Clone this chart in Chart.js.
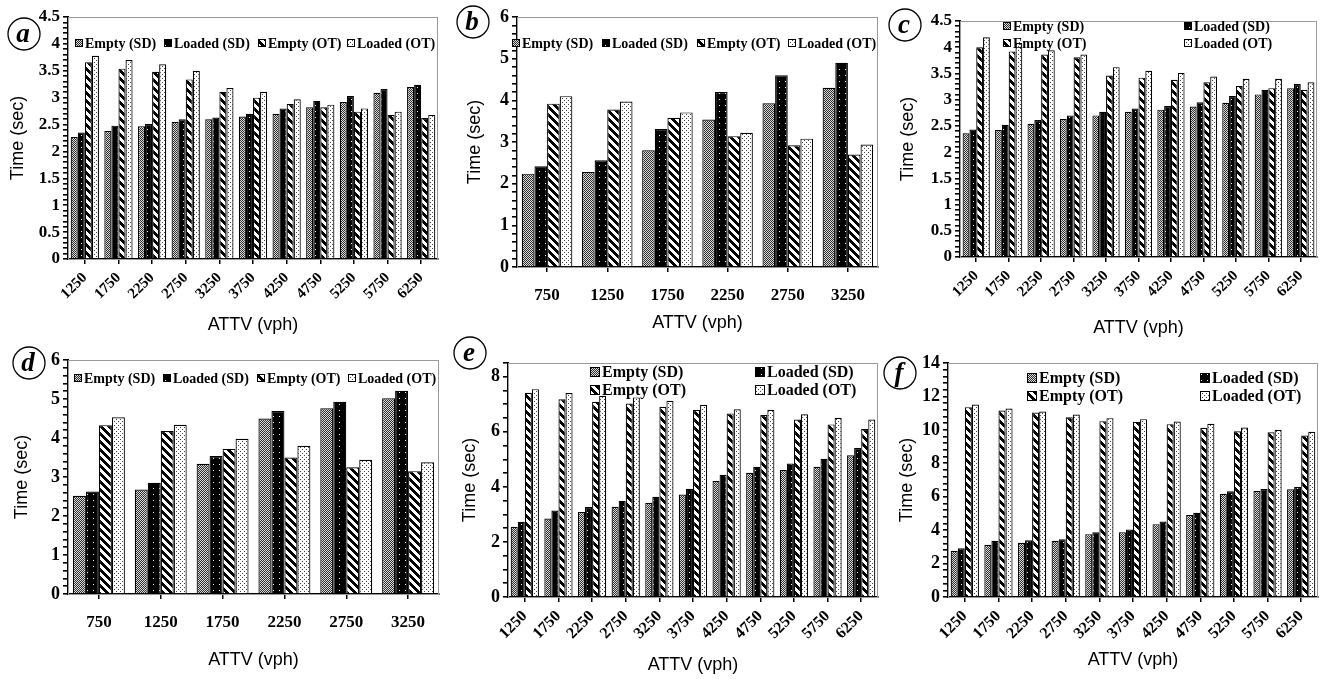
<!DOCTYPE html>
<html>
<head>
<meta charset="utf-8">
<script src="https://cdn.jsdelivr.net/npm/chart.js@4.4.1/dist/chart.umd.min.js"></script>
<style>
  html, body { margin: 0; padding: 0; background: #fff; }
  #wrap { position: relative; width: 1323px; height: 679px; overflow: hidden; }
  canvas { position: absolute; }
</style>
</head>
<body>
<div id="wrap">
  <canvas id="pa" width="440" height="345" style="left:0px;top:0px"></canvas>
  <canvas id="pb" width="440" height="345" style="left:440px;top:0px"></canvas>
  <canvas id="pc" width="443" height="345" style="left:880px;top:0px"></canvas>
  <canvas id="pd" width="440" height="344" style="left:0px;top:335px"></canvas>
  <canvas id="pe" width="440" height="344" style="left:440px;top:335px"></canvas>
  <canvas id="pf" width="443" height="344" style="left:880px;top:335px"></canvas>
</div>
<script>
// categories
const catsLong = ['1250', '1750', '2250', '2750', '3250', '3750', '4250', '4750', '5250', '5750', '6250'];
const catsShort = ['750', '1250', '1750', '2250', '2750', '3250'];
const seriesNames = ['Empty (SD)', 'Loaded (SD)', 'Empty (OT)', 'Loaded (OT)'];

// panel a
const aEmptySD = [2.27, 2.38, 2.47, 2.55, 2.60, 2.65, 2.70, 2.82, 2.92, 3.09, 3.20];
const aLoadedSD = [2.35, 2.48, 2.51, 2.60, 2.63, 2.70, 2.80, 2.94, 3.03, 3.16, 3.24];
const aEmptyOT = [3.66, 3.54, 3.48, 3.34, 3.11, 3.00, 2.88, 2.82, 2.74, 2.68, 2.62];
const aLoadedOT = [3.78, 3.70, 3.62, 3.50, 3.18, 3.11, 2.97, 2.87, 2.80, 2.74, 2.68];

// panel b
const bEmptySD = [2.24, 2.28, 2.80, 3.54, 3.93, 4.30];
const bLoadedSD = [2.42, 2.56, 3.31, 4.20, 4.60, 4.90];
const bEmptyOT = [3.92, 3.78, 3.58, 3.14, 2.92, 2.70];
const bLoadedOT = [4.10, 3.97, 3.71, 3.22, 3.08, 2.94];

// panel c
const cEmptySD = [2.36, 2.42, 2.54, 2.63, 2.70, 2.77, 2.81, 2.87, 2.94, 3.10, 3.22];
const cLoadedSD = [2.43, 2.52, 2.61, 2.70, 2.77, 2.83, 2.88, 2.95, 3.07, 3.19, 3.30];
const cEmptyOT = [4.00, 3.92, 3.86, 3.81, 3.46, 3.42, 3.38, 3.33, 3.26, 3.22, 3.19];
const cLoadedOT = [4.19, 4.08, 3.94, 3.86, 3.62, 3.55, 3.51, 3.44, 3.40, 3.40, 3.33];

// panel d
const dEmptySD = [2.52, 2.68, 3.34, 4.50, 4.76, 5.02];
const dLoadedSD = [2.63, 2.85, 3.54, 4.69, 4.93, 5.21];
const dEmptyOT = [4.33, 4.18, 3.72, 3.50, 3.25, 3.15];
const dLoadedOT = [4.53, 4.34, 3.98, 3.80, 3.44, 3.38];

// panel e
const eEmptySD = [2.55, 2.85, 3.09, 3.28, 3.42, 3.72, 4.21, 4.51, 4.61, 4.73, 5.15];
const eLoadedSD = [2.73, 3.14, 3.27, 3.49, 3.64, 3.93, 4.44, 4.73, 4.85, 5.02, 5.41];
const eEmptyOT = [7.42, 7.18, 7.09, 7.03, 6.91, 6.79, 6.67, 6.61, 6.45, 6.27, 6.10];
const eLoadedOT = [7.55, 7.41, 7.31, 7.25, 7.13, 6.98, 6.82, 6.80, 6.64, 6.51, 6.45];

// panel f
const fEmptySD = [2.76, 3.12, 3.24, 3.36, 3.76, 3.88, 4.36, 4.90, 6.18, 6.34, 6.44];
const fLoadedSD = [2.92, 3.36, 3.40, 3.46, 3.88, 4.04, 4.52, 5.04, 6.32, 6.46, 6.58];
const fEmptyOT = [11.36, 11.16, 11.04, 10.76, 10.52, 10.48, 10.34, 10.12, 9.92, 9.86, 9.66];
const fLoadedOT = [11.52, 11.28, 11.10, 10.92, 10.70, 10.64, 10.50, 10.36, 10.14, 10.00, 9.88];

const SERIF = '"Liberation Serif", "Times New Roman", serif';
const SANS = '"Liberation Sans", Arial, sans-serif';

// small pixel tiles for the hatch fills
function tile(size, pick) {
  const c = document.createElement('canvas');
  c.width = size; c.height = size;
  const x = c.getContext('2d');
  for (let i = 0; i < size; i++) {
    for (let j = 0; j < size; j++) {
      x.fillStyle = pick(i, j);
      x.fillRect(i, j, 1, 1);
    }
  }
  return c;
}

const tiles = [
  tile(4, (i, j) => ((i + j) % 2 === 0 ? '#2e2e2e' : '#dcdcdc')),               // Empty (SD)
  tile(6, (i, j) => (i === 3 && j === 3 ? '#f2f2f2' : '#000')),                    // Loaded (SD)
  tile(8, (i, j) => ((((i - j) % 8) + 8) % 8 < 4 ? '#000' : '#fff')),              // Empty (OT)
  tile(4, (i, j) => ((i === 0 && j === 0) || (i === 2 && j === 2) ? '#444' : '#fff')) // Loaded (OT)
];

// frame, legend and circled letter, drawn on top of each panel
const panelDeco = {
  id: 'panelDeco',
  beforeDatasetsDraw(chart, args, opts) {
    const { ctx, chartArea } = chart;
    ctx.save();
    ctx.strokeStyle = '#9a9a9a';
    ctx.lineWidth = 1;
    ctx.strokeRect(chartArea.left + 0.5, chartArea.top + 0.5, chartArea.right - chartArea.left - 1, chartArea.bottom - chartArea.top);
    ctx.restore();
  },
  afterDraw(chart, args, opts) {
    const ctx = chart.ctx;
    ctx.save();
    // legend
    ctx.font = 'bold ' + opts.legendSize + 'px ' + SERIF;
    ctx.textBaseline = 'middle';
    ctx.textAlign = 'left';
    opts.legendPos.forEach((p, k) => {
      const s = opts.boxSize;
      const bx = p[0], by = Math.round(p[1] - s / 2);
      ctx.fillStyle = chart.data.datasets[k].backgroundColor;
      ctx.fillRect(bx, by, s, s);
      ctx.strokeStyle = '#000';
      ctx.lineWidth = 1;
      ctx.strokeRect(bx + 0.5, by + 0.5, s - 1, s - 1);
      ctx.fillStyle = '#000';
      ctx.fillText(chart.data.datasets[k].label, bx + s + 2, p[1] + 1);
    });
    // circled letter
    const [cx, cy] = opts.letterPos;
    ctx.beginPath();
    ctx.arc(cx, cy, 16, 0, Math.PI * 2);
    ctx.strokeStyle = '#000';
    ctx.lineWidth = 1.3;
    ctx.stroke();
    ctx.font = 'italic bold 27px ' + SERIF;
    ctx.textAlign = 'center';
    ctx.fillStyle = '#000';
    ctx.fillText(opts.letter, cx - 1, cy + 1);
    ctx.restore();
  }
};

function makePanel(id, cats, values, cfg) {
  const canvas = document.getElementById(id);
  const ctx = canvas.getContext('2d');
  const fills = tiles.map(t => ctx.createPattern(t, 'repeat'));
  const datasets = values.map((v, k) => ({
    label: seriesNames[k],
    data: v,
    backgroundColor: fills[k],
    borderColor: '#000',
    borderWidth: 1.2,
    categoryPercentage: 0.84,
    barPercentage: 1.0
  }));

  return new Chart(ctx, {
    type: 'bar',
    data: { labels: cats, datasets: datasets },
    plugins: [panelDeco],
    options: {
      responsive: false,
      animation: false,
      layout: { padding: { top: cfg.top, right: cfg.right, left: 0, bottom: 0 } },
      plugins: {
        legend: { display: false },
        tooltip: { enabled: false },
        panelDeco: cfg.deco
      },
      scales: {
        x: {
          offset: true,
          grid: { display: true, drawOnChartArea: false, drawTicks: true, tickLength: 5, lineWidth: 1.5, color: '#000', offset: false },
          border: { display: true, color: '#000', width: 2 },
          ticks: {
            autoSkip: false,
            maxRotation: cfg.rot,
            minRotation: cfg.rot,
            padding: cfg.xPad,
            color: '#000',
            font: { family: SERIF, weight: 'bold', size: cfg.xFont }
          },
          title: {
            display: true,
            text: 'ATTV (vph)',
            color: '#000',
            font: { family: SANS, size: 18 },
            padding: { top: 0, bottom: cfg.xTitlePad }
          },
          afterFit(scale) { scale.height = cfg.xH; }
        },
        y: {
          min: 0,
          max: cfg.yMax,
          grid: { display: true, drawOnChartArea: false, drawTicks: true, tickLength: 5, lineWidth: 1.6, color: '#000' },
          border: { display: true, color: '#000', width: 2 },
          ticks: {
            stepSize: cfg.yStep,
            maxTicksLimit: 1000,
            autoSkip: false,
            padding: 3,
            color: '#000',
            font: { family: SERIF, weight: 'bold', size: cfg.yFont },
            callback(value) {
              const r = value / cfg.yMajor;
              if (Math.abs(r - Math.round(r)) > 1e-6) return '';
              return String(Math.round(value * 10) / 10);
            }
          },
          title: {
            display: true,
            text: 'Time (sec)',
            color: '#000',
            font: { family: SANS, size: 18 },
            padding: { top: cfg.yTitlePad, bottom: 0 }
          },
          afterFit(scale) { scale.width = cfg.yW; }
        }
      }
    }
  });
}

makePanel('pa', catsLong, [aEmptySD, aLoadedSD, aEmptyOT, aLoadedOT], {
  top: 17, right: 2, yW: 68, xH: 86, rot: 45, xPad: 5, xFont: 15, yFont: 17,
  xTitlePad: 9, yTitlePad: 7, yMax: 4.5, yStep: 0.1, yMajor: 0.5,
  deco: { letter: 'a', letterPos: [24, 34], legendSize: 14, boxSize: 8,
          legendPos: [[75, 43], [164, 43], [258, 43], [347, 43]] }
});

makePanel('pb', catsShort, [bEmptySD, bLoadedSD, bEmptyOT, bLoadedOT], {
  top: 17, right: 2, yW: 77, xH: 78, rot: 0, xPad: 13, xFont: 17, yFont: 18,
  xTitlePad: 11, yTitlePad: 24, yMax: 6, yStep: 0.2, yMajor: 1,
  deco: { letter: 'b', letterPos: [33, 22], legendSize: 14, boxSize: 8,
          legendPos: [[72, 43], [162, 43], [257, 43], [348, 43]] }
});

makePanel('pc', catsLong, [cEmptySD, cLoadedSD, cEmptyOT, cLoadedOT], {
  top: 21, right: 6, yW: 80, xH: 88, rot: 45, xPad: 5, xFont: 15, yFont: 17,
  xTitlePad: 6, yTitlePad: 17, yMax: 4.5, yStep: 0.1, yMajor: 0.5,
  deco: { letter: 'c', letterPos: [25, 25], legendSize: 14, boxSize: 8,
          legendPos: [[123, 26], [304, 26], [123, 43], [304, 43]] }
});

makePanel('pd', catsShort, [dEmptySD, dLoadedSD, dEmptyOT, dLoadedOT], {
  top: 25, right: 1, yW: 68, xH: 85, rot: 0, xPad: 13, xFont: 17, yFont: 18,
  xTitlePad: 8, yTitlePad: 11, yMax: 6, yStep: 0.2, yMajor: 1,
  deco: { letter: 'd', letterPos: [29, 28], legendSize: 14, boxSize: 8,
          legendPos: [[74, 43], [163, 43], [257, 43], [348, 43]] }
});

makePanel('pe', catsLong, [eEmptySD, eLoadedSD, eEmptyOT, eLoadedOT], {
  top: 28, right: 2, yW: 68, xH: 82, rot: 45, xPad: 5, xFont: 16, yFont: 18,
  xTitlePad: 3, yTitlePad: 19, yMax: 8.5, yStep: 0.5, yMajor: 2,
  deco: { letter: 'e', letterPos: [30, 18], legendSize: 16, boxSize: 10,
          legendPos: [[150, 37], [315, 37], [150, 55], [315, 55]] }
});

makePanel('pf', catsLong, [fEmptySD, fLoadedSD, fEmptyOT, fLoadedOT], {
  top: 28, right: 5, yW: 68, xH: 82, rot: 45, xPad: 5, xFont: 16, yFont: 18,
  xTitlePad: 8, yTitlePad: 16, yMax: 14, yStep: 0.4, yMajor: 2,
  deco: { letter: 'f', letterPos: [20, 38], legendSize: 16, boxSize: 10,
          legendPos: [[147, 43], [320, 43], [147, 61], [320, 61]] }
});
</script>
</body>
</html>
